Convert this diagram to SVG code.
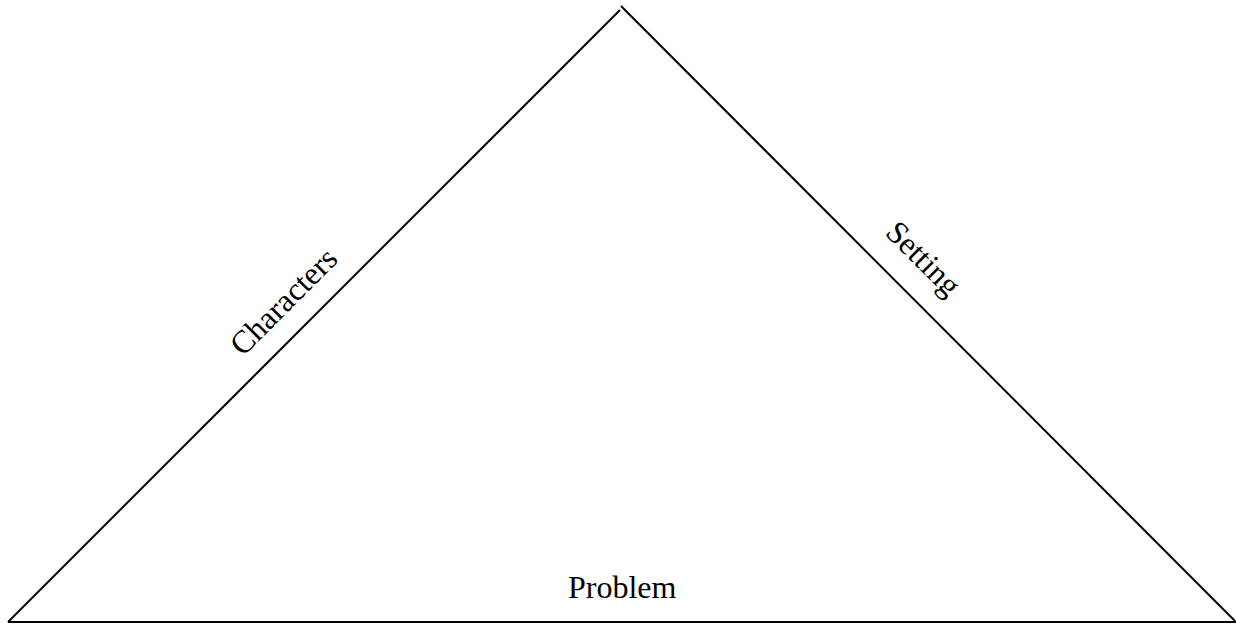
<svg xmlns="http://www.w3.org/2000/svg" width="1236" height="624" viewBox="0 0 1236 624">
<style>
.edge{stroke:#000;stroke-width:2;fill:none}
.lbl{font-family:"Liberation Serif","Times New Roman",serif;font-size:32px;fill:#000}
</style>
<rect width="1236" height="624" fill="#fff"/>
<g id="connectors">
<line class="edge" x1="8" y1="622" x2="620" y2="10"/>
<line class="edge" x1="621" y1="6" x2="1235" y2="621"/>
<line class="edge" x1="8" y1="622" x2="1236" y2="622"/>
</g>
<g id="characters"><text class="lbl" text-anchor="middle" transform="translate(291,309) rotate(-45)">Characters</text></g>
<g id="setting"><text class="lbl" text-anchor="middle" transform="translate(916,266) rotate(45)">Setting</text></g>
<g id="problem"><text class="lbl" x="568" y="598">Problem</text></g>
</svg>
